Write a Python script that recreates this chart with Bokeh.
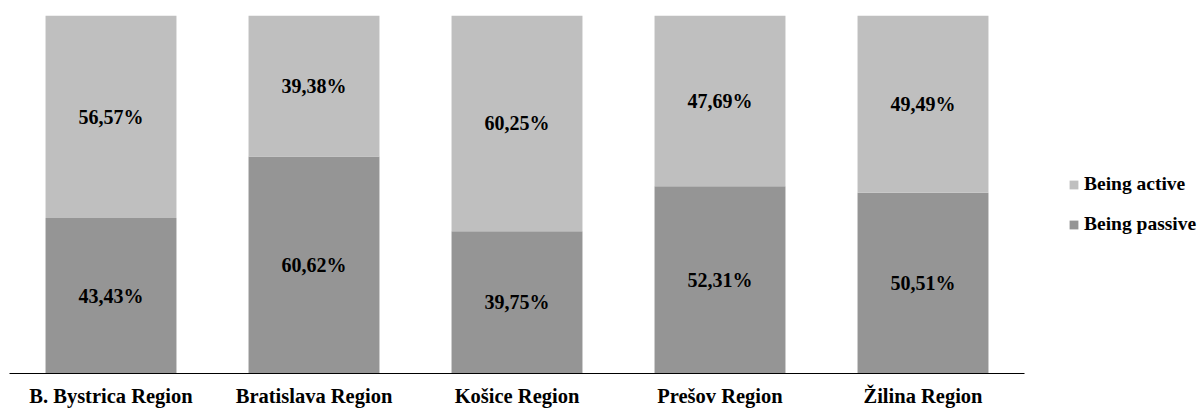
from bokeh.plotting import figure
from bokeh.models import ColumnDataSource, Range1d, Legend, LegendItem, LabelSet, FixedTicker
from bokeh.embed import file_html
from bokeh.resources import INLINE

regions = ["B. Bystrica Region", "Bratislava Region", "Košice Region", "Prešov Region", "Žilina Region"]
passive = [43.43, 60.62, 39.75, 52.31, 50.51]
active = [56.57, 39.38, 60.25, 47.69, 49.49]

ACTIVE_COLOR = "#bfbfbf"
PASSIVE_COLOR = "#959595"
FONT = "Liberation Serif"

WIDTH, HEIGHT = 1203, 409
LEFT, TOP, BOTTOM = 9, 15, 35
SLOT = 203  # pixels per category slot


def fmt(v):
    return f"{v:.2f}".replace(".", ",") + "%"


xpos = [i + 0.5 for i in range(len(regions))]

src = ColumnDataSource(dict(
    x=xpos,
    passive=passive,
    active=active,
    passive_mid=[p / 2 for p in passive],
    active_mid=[p + a / 2 for p, a in zip(passive, active)],
    passive_lbl=[fmt(v) for v in passive],
    active_lbl=[fmt(v) for v in active],
))

# the frame runs to the right edge so the legend can live beside the bars
p = figure(
    width=WIDTH, height=HEIGHT,
    x_range=Range1d(0, (WIDTH - LEFT) / SLOT),
    y_range=Range1d(0, 100),
    output_backend="svg", toolbar_location=None,
    min_border_left=LEFT, min_border_right=0, min_border_top=TOP, min_border_bottom=BOTTOM,
)
p.outline_line_color = None
p.xgrid.grid_line_color = None
p.ygrid.grid_line_color = None
p.yaxis.visible = False

renderers = p.vbar_stack(["passive", "active"], x="x", width=0.645, source=src,
                         color=[PASSIVE_COLOR, ACTIVE_COLOR], line_color=None)

for col, mid in (("passive_lbl", "passive_mid"), ("active_lbl", "active_mid")):
    p.add_layout(LabelSet(x="x", y=mid, text=col, source=src,
                          text_align="center", text_baseline="middle",
                          text_font=FONT, text_font_style="bold",
                          text_font_size="20px", text_color="#000000"))

ax = p.xaxis[0]
ax.bounds = (0, len(regions))
ax.ticker = FixedTicker(ticks=xpos)
ax.major_label_overrides = {x: r for x, r in zip(xpos, regions)}
ax.axis_line_color = "#000000"
ax.axis_line_width = 1
ax.major_tick_line_color = None
ax.minor_tick_line_color = None
ax.major_tick_out = 0
ax.major_tick_in = 0
ax.major_label_standoff = 11
ax.major_label_text_font = FONT
ax.major_label_text_font_style = "bold"
ax.major_label_text_font_size = "20.5px"
ax.major_label_text_color = "#000000"

legend = Legend(items=[
    LegendItem(label="Being active", renderers=[renderers[1]]),
    LegendItem(label="Being passive", renderers=[renderers[0]]),
], location=(1059, 138))
legend.border_line_color = None
legend.background_fill_alpha = 0
legend.label_text_font = FONT
legend.label_text_font_style = "bold"
legend.label_text_font_size = "19.5px"
legend.label_text_color = "#000000"
legend.glyph_width = 11
legend.glyph_height = 11
legend.label_height = 20
legend.spacing = 18
legend.label_standoff = 5
legend.padding = 0
legend.margin = 0
p.add_layout(legend, "center")

open("out.html", "w").write(file_html(p, INLINE))
